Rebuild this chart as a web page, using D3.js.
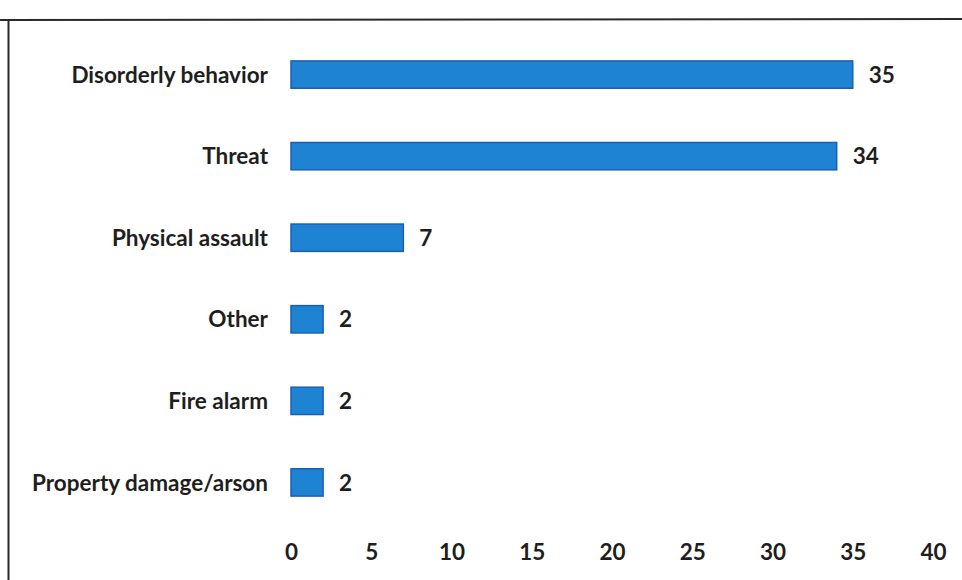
<!DOCTYPE html>
<html>
<head>
<meta charset="utf-8">
<script src="https://cdn.jsdelivr.net/npm/d3@7"></script>
<style>
  body { margin: 0; background: #fff; }
  svg text { font-family: Lato, "Open Sans", sans-serif; font-weight: bold; fill: #1e1e1e; }
</style>
</head>
<body>
<svg id="chart" width="962" height="580"></svg>
<script>
// data
var categories = ["Disorderly behavior", "Threat", "Physical assault", "Other", "Fire alarm", "Property damage/arson"];
var counts = [35, 34, 7, 2, 2, 2];
var xTicks = [0, 5, 10, 15, 20, 25, 30, 35, 40];

var svg = d3.select("#chart"),
    width = +svg.attr("width"),
    height = +svg.attr("height"),
    fs = 22.5;

var x = d3.scaleLinear().domain([0, 40]).range([291, 933]);
var y = d3.scaleBand().domain(categories).range([34, 523]).paddingInner(0.665).paddingOuter(0.33);

// frame of the scanned chart
svg.append("line").attr("x1", 0).attr("x2", width).attr("y1", 20).attr("y2", 19)
    .attr("stroke", "#2a2a2a").attr("stroke-width", 2);
svg.append("line").attr("x1", 8.5).attr("x2", 8.5).attr("y1", 20).attr("y2", height)
    .attr("stroke", "#2a2a2a").attr("stroke-width", 2);

var rows = categories.map(function (c, i) { return {name: c, value: counts[i]}; });

svg.selectAll("rect.bar").data(rows).enter().append("rect")
    .attr("class", "bar")
    .attr("x", x(0))
    .attr("y", function (d) { return y(d.name); })
    .attr("width", function (d) { return x(d.value) - x(0); })
    .attr("height", y.bandwidth())
    .attr("fill", "#1f83d3")
    .attr("stroke", "#1b5fb2")
    .attr("stroke-width", 1.5);

// value labels
svg.selectAll("text.val").data(rows).enter().append("text")
    .attr("class", "val")
    .attr("x", function (d) { return x(d.value) + 16; })
    .attr("y", function (d) { return y(d.name) + y.bandwidth() / 2; })
    .attr("dy", "0.36em")
    .attr("font-size", fs)
    .text(function (d) { return d.value; });

// category axis (no line, no ticks)
var yAxis = svg.append("g").attr("transform", "translate(" + (x(0) - 23) + ",0)")
    .call(d3.axisLeft(y).tickSize(0).tickPadding(0));
yAxis.select(".domain").remove();
yAxis.selectAll("text").attr("font-size", fs).attr("font-family", null).attr("fill", null).attr("dy", "0.36em");

// value axis (labels only)
var xAxis = svg.append("g").attr("transform", "translate(0,544)")
    .call(d3.axisBottom(x).tickValues(xTicks).tickSize(0).tickPadding(0));
xAxis.select(".domain").remove();
xAxis.selectAll("text").attr("font-size", fs).attr("font-family", null).attr("fill", null).attr("dy", "0.71em");
</script>
</body>
</html>
